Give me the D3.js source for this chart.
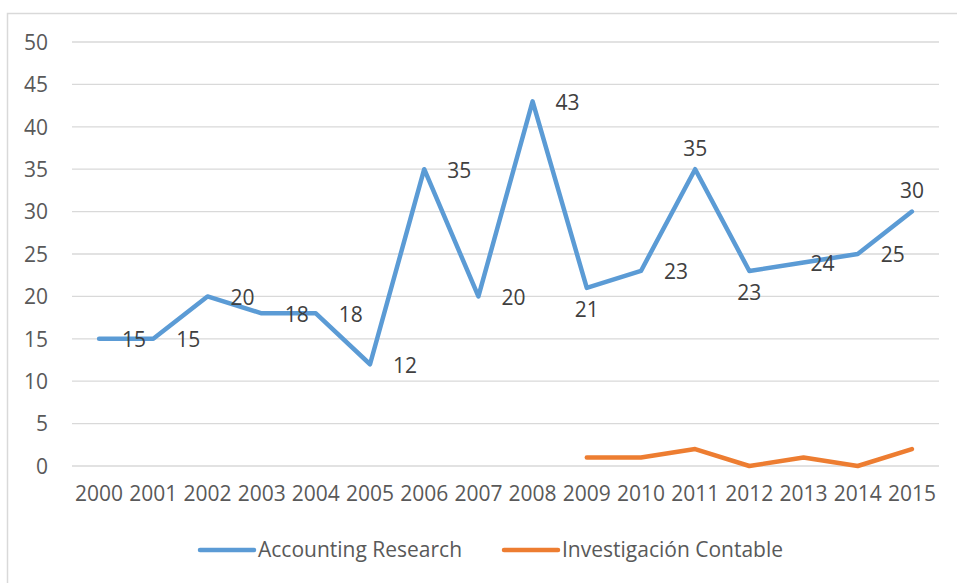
<!DOCTYPE html>
<html lang="en">
<head>
<meta charset="utf-8">
<title>Accounting Research vs Investigación Contable</title>
<script src="https://cdn.jsdelivr.net/npm/d3@7"></script>
<style>
  body { margin: 0; background: #fff; }
  text { font-family: "Open Sans", "Noto Sans", sans-serif; }
</style>
</head>
<body>
<script>
var years = ["2000","2001","2002","2003","2004","2005","2006","2007","2008","2009","2010","2011","2012","2013","2014","2015"];
var accounting = [15,15,20,18,18,12,35,20,43,21,23,35,23,24,25,30];
var investigacion = [null,null,null,null,null,null,null,null,null,1,1,2,0,1,0,2];
var yTicks = [0,5,10,15,20,25,30,35,40,45,50];
var seriesNames = ["Accounting Research", "Investigación Contable"];
// where each data label of the blue series sits (r = right, b = below, t = above, n = near right)
var labelPlace = ["r","r","r","r","r","r","r","r","r","b","r","t","b","n","r","t"];

var w = 957, h = 583;
var blue = "#5B9BD5", orange = "#ED7D31";
var fs = 21;

var svg = d3.select("body").append("svg")
    .attr("width", w)
    .attr("height", h);

// outer chart frame (clipped by the window on the right and bottom)
svg.append("rect")
    .attr("x", 7.5).attr("y", 13.5)
    .attr("width", 980).attr("height", 600)
    .attr("fill", "none")
    .attr("stroke", "#d9d9d9")
    .attr("stroke-width", 1.5);

var x = d3.scaleBand()
    .domain(years)
    .range([72, 939]);

var y = d3.scaleLinear()
    .domain([0, 50])
    .range([466, 42]);

function cx(d) { return x(d) + x.bandwidth() / 2; }

// gridlines
svg.append("g")
    .selectAll("line")
    .data(yTicks)
    .enter()
    .append("line")
    .attr("x1", 72).attr("x2", 939)
    .attr("y1", function(d) { return y(d); })
    .attr("y2", function(d) { return y(d); })
    .attr("stroke", "#d9d9d9")
    .attr("stroke-width", 1.3);

// y axis labels
var yAxis = d3.axisLeft(y).tickValues(yTicks).tickSize(0).tickPadding(0);
var gy = svg.append("g")
    .attr("transform", "translate(48,0)")
    .call(yAxis);
gy.select(".domain").remove();
gy.selectAll("text")
    .attr("font-size", fs)
    .attr("font-family", "Open Sans")
    .attr("fill", "#595959")
    .attr("dy", "0.35em");

// x axis labels
var xAxis = d3.axisBottom(x).tickSize(0).tickPadding(0);
var gx = svg.append("g")
    .attr("transform", "translate(0,486)")
    .call(xAxis);
gx.select(".domain").remove();
gx.selectAll("text")
    .attr("font-size", fs)
    .attr("font-family", "Open Sans")
    .attr("fill", "#595959")
    .attr("dy", "0.71em");

var line = d3.line()
    .defined(function(d) { return d.v !== null; })
    .x(function(d) { return cx(d.year); })
    .y(function(d) { return y(d.v); });

function rows(vals) {
    return years.map(function(yr, i) { return { year: yr, v: vals[i], place: labelPlace[i] }; });
}

svg.append("path")
    .datum(rows(investigacion))
    .attr("d", line)
    .attr("fill", "none")
    .attr("stroke", orange)
    .attr("stroke-width", 4.5)
    .attr("stroke-linecap", "round")
    .attr("stroke-linejoin", "round");

svg.append("path")
    .datum(rows(accounting))
    .attr("d", line)
    .attr("fill", "none")
    .attr("stroke", blue)
    .attr("stroke-width", 4.5)
    .attr("stroke-linecap", "round")
    .attr("stroke-linejoin", "round");

// data labels
svg.append("g")
    .selectAll("text")
    .data(rows(accounting))
    .enter()
    .append("text")
    .attr("x", function(d) {
        if (d.place === "r") return cx(d.year) + 23;
        if (d.place === "n") return cx(d.year) + 7;
        return cx(d.year);
    })
    .attr("y", function(d) {
        if (d.place === "b") return y(d.v) + 22;
        if (d.place === "t") return y(d.v) - 21;
        return y(d.v) + 1;
    })
    .attr("dy", "0.35em")
    .attr("text-anchor", function(d) { return (d.place === "r" || d.place === "n") ? "start" : "middle"; })
    .attr("font-size", fs)
    .attr("fill", "#404040")
    .text(function(d) { return d.v; });

// legend
var legend = svg.append("g");
var legendX = [200, 504];
var colors = [blue, orange];
seriesNames.forEach(function(name, i) {
    legend.append("line")
        .attr("x1", legendX[i]).attr("x2", legendX[i] + 54)
        .attr("y1", 550).attr("y2", 550)
        .attr("stroke", colors[i])
        .attr("stroke-width", 4.5)
        .attr("stroke-linecap", "round");
    legend.append("text")
        .attr("x", legendX[i] + 58)
        .attr("y", 550)
        .attr("dy", "0.35em")
        .attr("font-size", fs)
        .attr("fill", "#595959")
        .text(name);
});
</script>
</body>
</html>
